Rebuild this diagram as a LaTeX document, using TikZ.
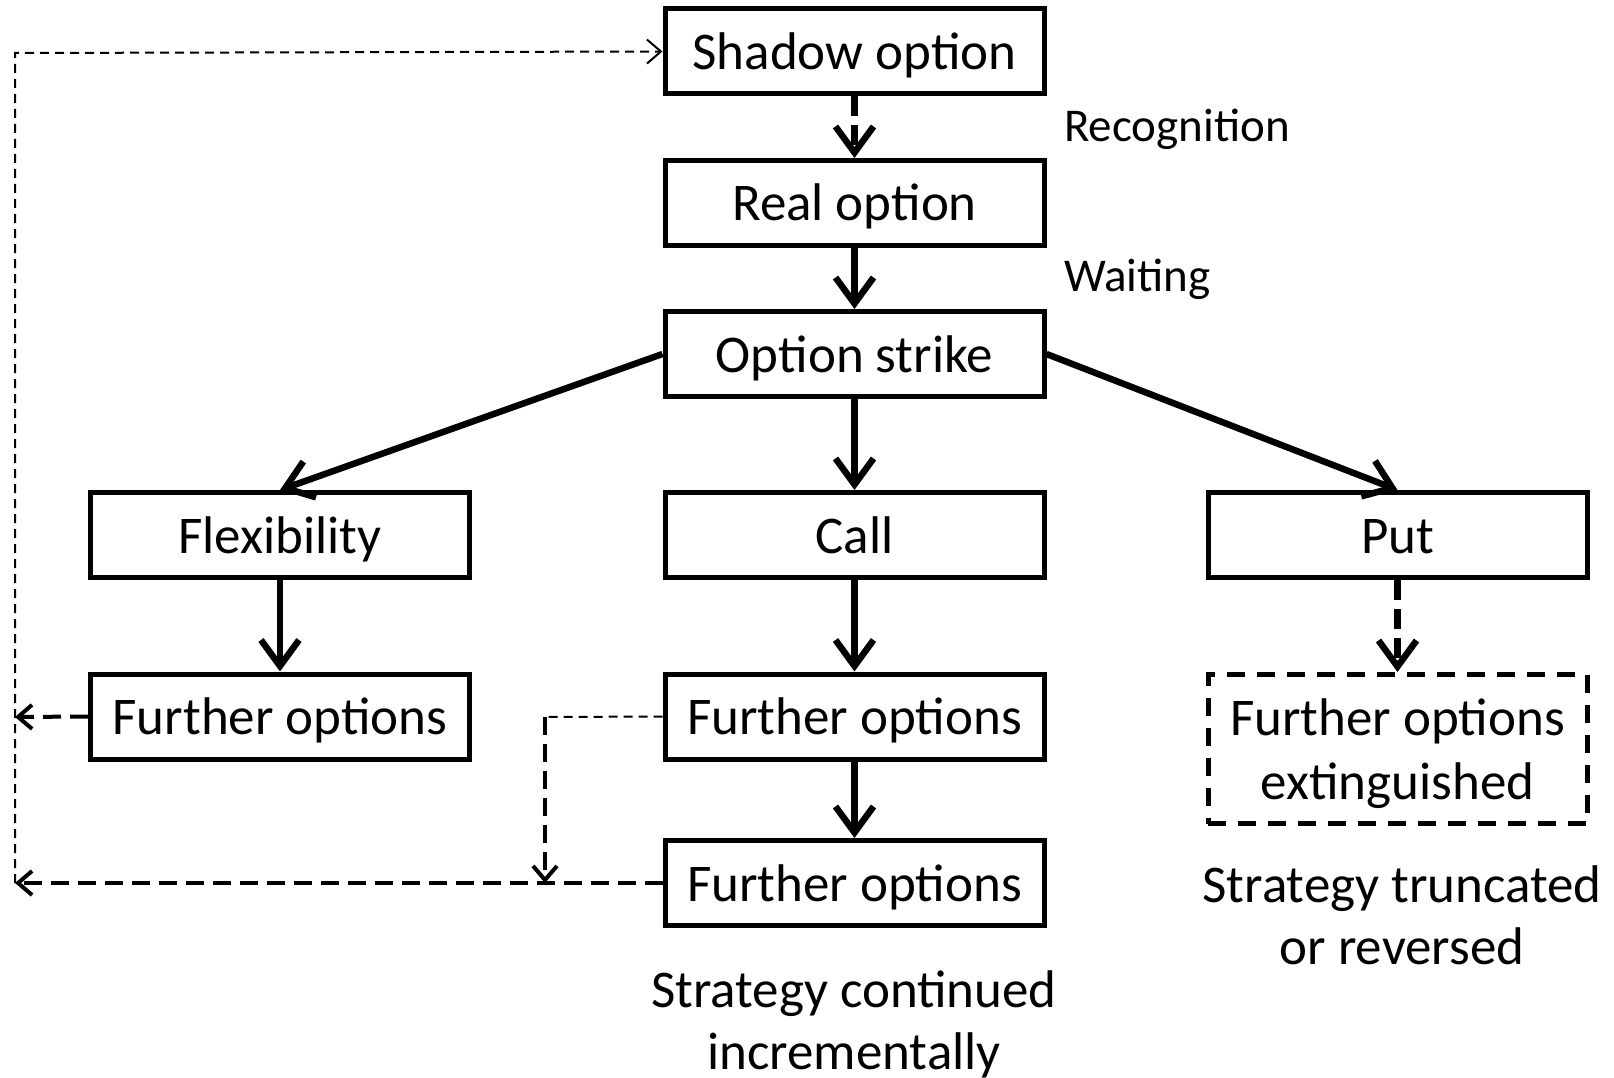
\documentclass[tikz,border=0pt]{standalone}
\usepackage{fontspec}
\setmainfont{Carlito}
\usetikzlibrary{arrows.meta}
\begin{document}
\begin{tikzpicture}[x=1pt,y=-1pt,
  box/.style={draw, line width=5pt, minimum width=379pt, minimum height=85pt, inner sep=0pt, text height=36pt, text depth=0pt, font=\fontsize{53}{62}\selectfont},
  dbox/.style={draw, line width=5pt, minimum width=379pt, minimum height=149pt, inner sep=0pt, dash pattern=on 18pt off 12pt},
  main/.style={line width=6.5pt, -{Straight Barb[length=26pt,width=38pt]}},
  maindash/.style={main, dash pattern=on 20pt off 9pt},
  lbl/.style={font=\fontsize{47}{56}\selectfont, anchor=west, inner sep=0pt},
  note/.style={font=\fontsize{53}{62}\selectfont, align=center, inner sep=0pt},
  thinback/.style={line width=2pt, dash pattern=on 9pt off 6pt},
  midback/.style={line width=4pt, dash pattern=on 18pt off 9pt},
  backtip/.style={-{Straight Barb[length=14pt,width=24pt]}}
]
\useasboundingbox (0,0) rectangle (1614,1078);
\node[box] (shadow) at (854.5,51.5) {Shadow option};
\node[box] (real)   at (854.5,203) {Real option};
\node[box] (strike) at (854.5,354) {Option strike};
\node[box] (flex)   at (280,535) {Flexibility};
\node[box] (call)   at (854.5,535) {Call};
\node[box] (put)    at (1397.5,535) {Put};
\node[box] (fo1)    at (280,716.5) {Further options};
\node[box] (fo2)    at (854.5,716.5) {Further options};
\node[box] (fo3)    at (854.5,883) {Further options};
\node[dbox] (ext)   at (1397.5,749) {};
\node[note, font=\fontsize{53}{64}\selectfont] (extt) at (1397.5,754) {Further options\\extinguished};

\node[lbl] (rec)  at (1064,129) {Recognition};
\node[lbl] (wait) at (1064,279) {Waiting};
\node[note] (cont)  at (854,1024) {Strategy continued\\incrementally};
\node[note] (trunc) at (1402,915) {Strategy truncated\\or reversed};

\coordinate (lb) at (15,883);
\coordinate (lt) at (15,53);
\coordinate (lm) at (15,717);
\coordinate (mk) at (545,717);
\coordinate (mb) at (545,883);

\draw[maindash] (shadow) -- (real);
\draw[main] (real) -- (strike);
\draw[main] (strike.west) -- (flex.north);
\draw[main] (strike) -- (call);
\draw[main] (strike.east) -- (put.north);
\draw[main] (flex) -- (fo1);
\draw[main] (call) -- (fo2);
\draw[main] (fo2) -- (fo3);
\draw[maindash] (put) -- (ext);

\draw[thinback, backtip] (lb) -- (lt) -- (shadow.west);
\draw[midback, backtip] (fo1.west) -- (lm);
\draw[midback, backtip] (fo3.west) -- (lb);
\draw[thinback] (fo2.west) -- (mk);
\draw[midback, backtip] (mk) -- (mb);
\end{tikzpicture}
\end{document}
